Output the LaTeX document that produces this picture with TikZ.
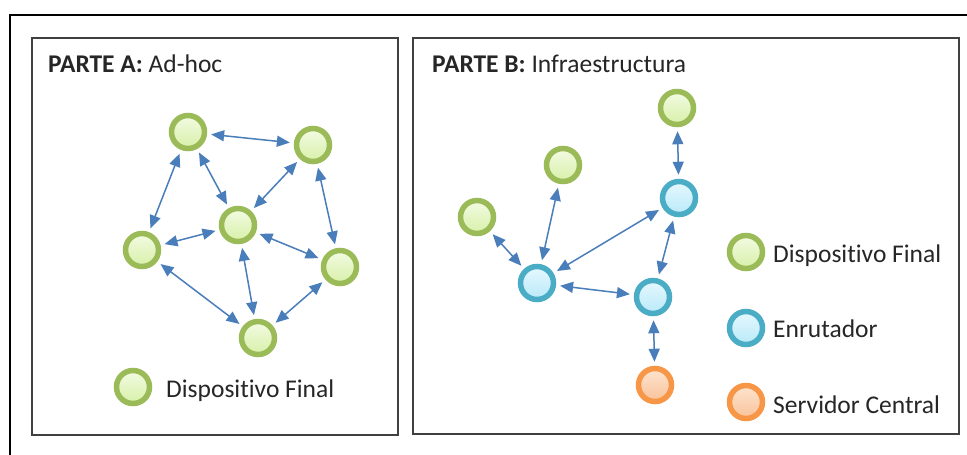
\documentclass[tikz,border=0pt]{standalone}
\usepackage{fontspec}
\setmainfont[Ligatures=NoCommon]{Carlito}
\usetikzlibrary{arrows.meta,shadows}
\definecolor{gring}{HTML}{9BBB59}
\definecolor{gtop}{HTML}{F3FBE3}
\definecolor{gbot}{HTML}{D7F0A8}
\definecolor{bring}{HTML}{4BACC6}
\definecolor{btop}{HTML}{E6F8FE}
\definecolor{bbot}{HTML}{B9E9F9}
\definecolor{oring}{HTML}{F79646}
\definecolor{otop}{HTML}{FDE3CF}
\definecolor{obot}{HTML}{F9C39A}
\definecolor{arr}{HTML}{4A7EBB}
\definecolor{boxc}{HTML}{404040}
\tikzset{
  dev/.style={circle, line width=5.5pt, minimum size=33pt, inner sep=0pt,
    drop shadow={shadow xshift=0.5pt, shadow yshift=-2.5pt, opacity=0.3, fill=black!70}},
  gdev/.style={dev, draw=gring, top color=gtop, bottom color=gbot},
  rdev/.style={dev, draw=bring, top color=btop, bottom color=bbot},
  sdev/.style={dev, draw=oring, top color=otop, bottom color=obot},
  conn/.style={draw=arr, line width=1.5pt, >={Triangle[length=13pt,width=11pt]}, <->, shorten <=4pt, shorten >=4pt},
  panel/.style={draw=boxc, line width=1.6pt},
  lbl/.style={anchor=base west, inner sep=0pt, font=\fontsize{25.5}{30}\selectfont, text=black!85}
}
\begin{document}
\begin{tikzpicture}[x=1pt,y=-1pt]
\useasboundingbox (0,0) rectangle (967,455);
\fill[white] (0,0) rectangle (967,455);
% outer frame (partially visible)
\draw[line width=2.6pt, black] (10,455) -- (10,15) -- (967,15);
% panels
\draw[panel] (32,38) rectangle (398,435);
\draw[panel] (413,38) rectangle (959,434);
\node[lbl] (ta) at (48,72) {\textbf{PARTE A:} Ad-hoc};
\node[lbl] (tb) at (432,72) {\textbf{PARTE B:} Infraestructura};
% Part A nodes
\node[gdev] (tl) at (188,132) {};
\node[gdev] (tr) at (313,145) {};
\node[gdev] (c)  at (238,225) {};
\node[gdev] (l)  at (142,250) {};
\node[gdev] (r)  at (340,267) {};
\node[gdev] (b)  at (258,338) {};
\draw[conn] (tl) -- (tr);
\draw[conn] (tl) -- (l);
\draw[conn] (tl) -- (c);
\draw[conn] (tr) -- (c);
\draw[conn] (tr) -- (r);
\draw[conn] (c) -- (l);
\draw[conn] (c) -- (r);
\draw[conn] (c) -- (b);
\draw[conn] (l) -- (b);
\draw[conn] (r) -- (b);
% legend A
\node[gdev] (la) at (133,387) {};
\node[lbl] (lat) at (166,397) {Dispositivo Final};
% Part B nodes
\node[gdev] (g1) at (677,108) {};
\node[gdev] (g2) at (563,165) {};
\node[gdev] (g3) at (477,217) {};
\node[rdev] (r1) at (537,283) {};
\node[rdev] (r2) at (679,198) {};
\node[rdev] (r3) at (653,297) {};
\node[sdev] (o)  at (655,385) {};
\draw[conn] (g3) -- (r1);
\draw[conn] (g2) -- (r1);
\draw[conn] (r1) -- (r2);
\draw[conn] (r1) -- (r3);
\draw[conn] (r2) -- (r3);
\draw[conn] (g1) -- (r2);
\draw[conn] (r3) -- (o);
% legend B
\node[gdev] (lb1) at (746,252) {};
\node[lbl] (lb1t) at (773,262) {Dispositivo Final};
\node[rdev] (lb2) at (746,328) {};
\node[lbl] (lb2t) at (773,337) {Enrutador};
\node[sdev] (lb3) at (746,402) {};
\node[lbl] (lb3t) at (773,413) {Servidor Central};
\end{tikzpicture}
\end{document}
